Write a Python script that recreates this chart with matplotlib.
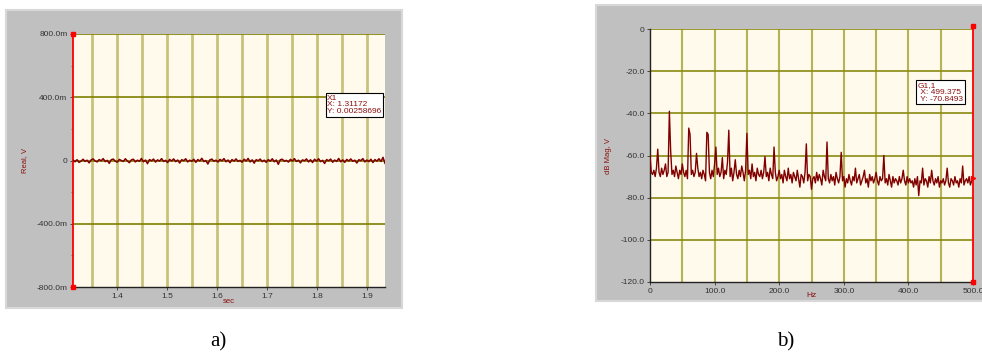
import numpy as np
import matplotlib

matplotlib.use("Agg")
import matplotlib.pyplot as plt
from matplotlib.patches import Rectangle

# time signal a), values in mV
t_start, t_end = 1.3117, 1.935
real_mv = [3, -8, 5, -12, -4, 8, -6, 2, -15, 4, 10, -3, -9, 6, -2, 12, -7, 1, -18, 5,
           9, -4, -11, 7, 0, -6, 11, -3, -14, 4, 8, -9, 2, -5, 13, -8, 3, -20, 6, -2,
           9, -10, 4, -4, 12, -6, 1, -13, 7, -3, 10, -7, 3, -16, 5, -1, 11, -9, 2, -5,
           8, -12, 6, -3, 14, -7, 0, -22, 4, 9, -5, 2, -10, 7, -2, 12, -8, 3, -14, 6,
           -4, 10, -6, 1, -11, 8, -3, 13, -9, 4, -17, 5, -1, 9, -7, 2, -12, 6, -4, 11,
           -8, 3, -24, 5, 8, -5, 1, -10, 7, -3, 12, -6, 2, -15, 4, -2, 10, -9, 5, -13,
           8, -4, 11, -7, 1, -19, 6, -2, 9, -11, 3, -6, 13, -8, 4, -12, 7, -3, 10, -5,
           2, -16, 5, -1, 12, -9, 3, -7, 8, -13, 6, -4, 11, -6, 20, -18]
time_ticks = [1.4, 1.5, 1.6, 1.7, 1.8, 1.9]
real_ticks = [-0.8, -0.4, 0, 0.4, 0.8]
real_labels = ["-800.0m", "-400.0m", "0", "400.0m", "800.0m"]

# spectrum b), one value every 2 Hz
freq_step = 2
mag_db = [
    -60, -68, -69, -67, -70, -66, -57, -68, -70, -66, -69, -67, -64, -70, -68, -39, -58, -69, -67, -70,
    -65, -68, -71, -67, -69, -64,
    -68, -70, -67, -71, -47, -50, -69, -67, -70, -68, -59, -66, -70, -68, -71, -67, -69, -72, -49, -50,
    -68, -71, -67, -70, -64,
    -56, -69, -66, -70, -68, -61, -71, -67, -69, -63, -48, -70, -66, -72, -68, -62, -69, -71, -67, -70,
    -65, -68, -72, -67, -49.5, -69,
    -67, -71, -64, -70, -68, -72, -66, -69, -70, -67, -71, -68, -60.5, -70, -68, -72, -66, -69, -71, -56,
    -68, -72, -70, -67, -71,
    -69, -73, -67, -70, -72, -66, -71, -69, -73, -68, -70, -72, -67, -71, -75, -69, -70, -73, -68, -54.5,
    -72, -69, -70, -76, -71,
    -70, -73, -68, -72, -69, -71, -74, -67, -70, -72, -53.6, -71, -73, -69, -72, -70, -74, -68, -71, -73,
    -70, -58.5, -72, -70, -75,
    -71, -73, -69, -72, -74, -70, -72, -66, -73, -71, -69, -74, -72, -70, -67, -73, -71, -75, -69, -72,
    -70, -73, -71, -68, -72,
    -74, -70, -72, -71, -60, -73, -71, -74, -69, -72, -75, -70, -73, -71, -72, -74, -70, -73, -71, -67,
    -72, -74, -70, -73, -71,
    -73, -72, -75, -71, -74, -70, -79, -72, -73, -66, -74, -71, -72, -75, -70, -73, -67, -72, -74, -71,
    -73, -70, -75, -72, -73,
    -71, -74, -72, -66, -73, -75, -71, -72, -74, -70, -73, -72, -75, -71, -73, -65, -74, -72, -71, -73,
    -70, -74, -72, -71, -70.8,
]
freq_ticks = [0, 100, 200, 300, 400, 500]
freq_labels = ["0", "100.0", "200.0", "300.0", "400.0", "500.0"]
db_ticks = [0, -20, -40, -60, -80, -100, -120]
db_labels = ["0", "-20.0", "-40.0", "-60.0", "-80.0", "-100.0", "-120.0"]

W, H = 982, 354
GRAY = "#c0c0c0"
CREAM = "#fffaeb"
TRACE = "#800000"
LABEL = "#8b1010"

plt.rcParams["font.family"] = ["Liberation Sans", "DejaVu Sans"]

fig = plt.figure(figsize=(W / 100, H / 100), dpi=100)


def px_rect(x0, y0, x1, y1):
    # pixel box (top-left origin) -> figure fraction [l, b, w, h]
    return [x0 / W, (H - y1) / H, (x1 - x0) / W, (y1 - y0) / H]


# gray instrument panels with thin light frame
for box in [(6, 10, 402, 308), (596, 5, 990, 301)]:
    l, b, w, h = px_rect(*box)
    fig.patches.append(Rectangle((l, b), w, h, transform=fig.transFigure,
                                 facecolor=GRAY, edgecolor="#d8d8d8", lw=1.5, zorder=-5))


def style(ax):
    ax.set_facecolor(CREAM)
    ax.tick_params(labelsize=6, length=2.5, width=0.6, colors="#333333", pad=1.5)
    ax.tick_params(which="minor", length=1.8, width=0.5, colors="#555555")
    for s in ax.spines.values():
        s.set_linewidth(1.0)
        s.set_color("#222222")
    ax.spines["top"].set_visible(False)


# ---- a) time record ----
ax1 = fig.add_axes(px_rect(73, 34, 385, 287))
style(ax1)
t = np.linspace(t_start, t_end, len(real_mv))
for xv in np.arange(1.35, 1.93, 0.05):
    ax1.axvline(xv, color="#c8c27a", lw=2.0, zorder=1)
for yv in [0.4, 0.8, 0, -0.4]:
    ax1.axhline(yv, color="#7f7f00", lw=1.2, zorder=1)
ax1.plot(t, np.array(real_mv) / 1000.0, color=TRACE, lw=1.1, zorder=3)
ax1.set_xlim(t_start, t_end)
ax1.set_ylim(-0.8, 0.8)
ax1.set_xticks(time_ticks)
ax1.set_xticklabels([str(v) for v in time_ticks])
ax1.set_yticks(real_ticks)
ax1.set_yticklabels(real_labels)
ax1.set_yticks([-0.6, -0.2, 0.2, 0.6], minor=True)
ax1.spines["right"].set_visible(False)
ax1.spines["left"].set_color("red")
ax1.spines["left"].set_linewidth(1.3)
ax1.plot([t_start, t_start], [0.8, -0.8], "s", color="red", ms=3, clip_on=False, zorder=5)
ax1.set_ylabel("Real, V", color=LABEL, fontsize=5.5, labelpad=6)
ax1.set_xlabel("sec", color=LABEL, fontsize=5.5, labelpad=-1)
ax1.text(0.815, 0.76, "X1\nX: 1.31172\nY: 0.00258696", transform=ax1.transAxes,
         fontsize=6, color=LABEL, va="top", ha="left", linespacing=0.95, zorder=6,
         bbox=dict(facecolor="white", edgecolor="black", lw=0.8, pad=1.2))

# ---- b) spectrum ----
ax2 = fig.add_axes(px_rect(650, 29, 973, 282))
style(ax2)
freqs = np.arange(len(mag_db)) * freq_step
for xv in range(50, 500, 50):
    ax2.axvline(xv, color="#b4b456", lw=1.5, zorder=1)
for yv in [0, -20, -40, -60, -80, -100]:
    ax2.axhline(yv, color="#8a8a10", lw=1.2, zorder=1)
ax2.plot(freqs, mag_db, color=TRACE, lw=1.0, zorder=3)
ax2.set_xlim(0, 500)
ax2.set_ylim(-120, 0)
ax2.set_xticks(freq_ticks)
ax2.set_xticklabels(freq_labels)
ax2.set_yticks(db_ticks)
ax2.set_yticklabels(db_labels)
ax2.spines["right"].set_color("red")
ax2.spines["right"].set_linewidth(1.3)
ax2.plot([500, 500], [1.3, -120], "s", color="red", ms=3, clip_on=False, zorder=5)
ax2.plot([500], [-70.8], marker=">", color="red", ms=3, clip_on=False, zorder=5)
ax2.set_ylabel("dB Mag, V", color=LABEL, fontsize=5.5, labelpad=6)
ax2.set_xlabel("Hz", color=LABEL, fontsize=6, labelpad=-2)
ax2.text(0.83, 0.79, "G1,1\n X: 499.375\n Y: -70.8493", transform=ax2.transAxes,
         fontsize=6, color=LABEL, va="top", ha="left", linespacing=0.95, zorder=6,
         bbox=dict(facecolor="white", edgecolor="black", lw=0.8, pad=1.2))

# captions
fig.text(218 / W, 1 - 342 / H, "a)", fontsize=15, family="Liberation Serif", ha="center", va="center")
fig.text(786 / W, 1 - 342 / H, "b)", fontsize=15, family="Liberation Serif", ha="center", va="center")

fig.savefig("out.png", dpi=100)
